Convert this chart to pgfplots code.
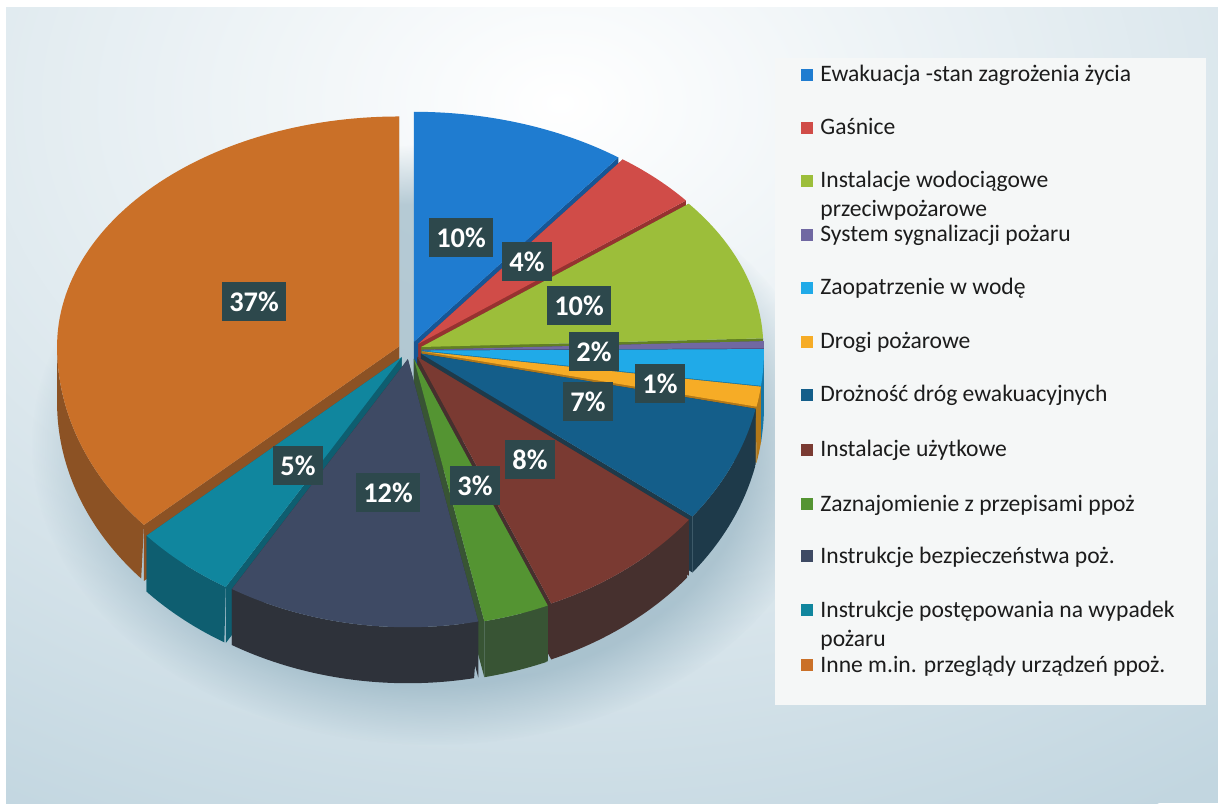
\documentclass[border=0pt]{standalone}
\usepackage{pgfplots}
\pgfplotsset{compat=1.18}
\usepackage{pgfplotstable}
\usetikzlibrary{fadings}
\usepackage{fontspec}
\setmainfont{Carlito}

\definecolor{c0}{RGB}{31,124,208}   \definecolor{s0}{RGB}{22,86,150}
\definecolor{c1}{RGB}{208,76,72}    \definecolor{s1}{RGB}{150,50,48}
\definecolor{c2}{RGB}{156,190,58}   \definecolor{s2}{RGB}{98,128,36}
\definecolor{c3}{RGB}{112,104,162}  \definecolor{s3}{RGB}{78,70,118}
\definecolor{c4}{RGB}{32,170,232}   \definecolor{s4}{RGB}{22,118,165}
\definecolor{c5}{RGB}{246,172,38}   \definecolor{s5}{RGB}{178,120,25}
\definecolor{c6}{RGB}{20,94,138}    \definecolor{s6}{RGB}{30,58,74}
\definecolor{c7}{RGB}{122,58,50}    \definecolor{s7}{RGB}{70,48,46}
\definecolor{c8}{RGB}{84,148,50}    \definecolor{s8}{RGB}{56,84,52}
\definecolor{c9}{RGB}{62,74,100}    \definecolor{s9}{RGB}{46,50,58}
\definecolor{c10}{RGB}{16,134,158}  \definecolor{s10}{RGB}{14,94,112}
\definecolor{c11}{RGB}{202,112,40}  \definecolor{s11}{RGB}{140,82,36}
\definecolor{lblbox}{RGB}{45,72,76}
\definecolor{bgblue}{RGB}{194,214,224}
\definecolor{legbg}{RGB}{245,247,247}
\definecolor{shadowc}{RGB}{140,172,188}
\definecolor{txt}{RGB}{28,28,28}

% value = share in percent, explode = offset in px, lx/ly = label centre (px), lab = printed percent
\pgfplotstableread{
value explode lx  ly  lab
10.2  12      461 238 10
4.1   12      527 262 4
10.1  12      579 306 10
0.5   12      0   0   0
2.2   12      594 352 2
1.2   12      660 384 1
7.1   12      588 402 7
8.2   12      530 460 8
3.1   13      475 486 3
11.9  13      388 493 12
4.8   13      298 466 5
36.6  12      254 302 37
}\piedata

% centre, horizontal radius, vertical radius behind / in front, depth (all px)
\def\CX{410}\def\CY{453}\def\RX{342}\def\RYU{230}\def\RYD{268}\def\DEP{56}
\pgfplotstablegetrowsof{\piedata}
\pgfmathtruncatemacro\pielast{\pgfplotsretval-1}
\xdef\piecum{90}
\foreach \r in {0,...,\pielast}{%
  \pgfplotstablegetelem{\r}{value}\of\piedata
  \pgfmathsetmacro\pieAa{\piecum}%
  \pgfmathsetmacro\pieBb{\piecum-3.6*\pgfplotsretval}%
  \pgfmathsetmacro\pieMid{(\pieAa+\pieBb)/2}%
  \pgfplotstablegetelem{\r}{explode}\of\piedata
  \pgfmathsetmacro\pieXx{\CX+\pgfplotsretval*cos(\pieMid)}%
  \pgfmathsetmacro\pieYy{\CY+\pgfplotsretval*sin(\pieMid)*0.72}%
  \pgfmathsetmacro\pieLo{max(\pieBb,-180)}%
  \pgfmathsetmacro\pieHi{min(\pieAa,0)}%
  \pgfmathtruncatemacro\pieVis{\pieHi>\pieLo+0.01 ? 1 : 0}%
  \pgfmathsetmacro\xa{\pieXx+\RX*cos(\pieAa)}\pgfmathsetmacro\ya{\pieYy+sin(\pieAa)*(sin(\pieAa)>0 ? \RYU : \RYD)}%
  \pgfmathsetmacro\xb{\pieXx+\RX*cos(\pieBb)}\pgfmathsetmacro\yb{\pieYy+sin(\pieBb)*(sin(\pieBb)>0 ? \RYU : \RYD)}%
  \pgfmathsetmacro\pyd{\pieYy-\DEP}\pgfmathsetmacro\yad{\ya-\DEP}\pgfmathsetmacro\ybd{\yb-\DEP}%
  \pgfplotstablegetelem{\r}{lx}\of\piedata \let\plx\pgfplotsretval
  \pgfplotstablegetelem{\r}{ly}\of\piedata \pgfmathsetmacro\ply{803-\pgfplotsretval}%
  \pgfplotstablegetelem{\r}{lab}\of\piedata \let\plab\pgfplotsretval
  \expandafter\xdef\csname pieA\r\endcsname{\pieAa}%
  \expandafter\xdef\csname pieB\r\endcsname{\pieBb}%
  \expandafter\xdef\csname pieX\r\endcsname{\pieXx}%
  \expandafter\xdef\csname pieY\r\endcsname{\pieYy}%
  \expandafter\xdef\csname pieLO\r\endcsname{\pieLo}%
  \expandafter\xdef\csname pieHI\r\endcsname{\pieHi}%
  \expandafter\xdef\csname pieV\r\endcsname{\pieVis}%
  \expandafter\xdef\csname pieLX\r\endcsname{\plx}%
  \expandafter\xdef\csname pieLY\r\endcsname{\ply}%
  \expandafter\xdef\csname pieL\r\endcsname{\plab}%
  \expandafter\xdef\csname pieFA\r\endcsname{(\pieXx,\pieYy) (\xa,\ya) (\xa,\yad) (\pieXx,\pyd)}%
  \expandafter\xdef\csname pieFB\r\endcsname{(\pieXx,\pieYy) (\xb,\yb) (\xb,\ybd) (\pieXx,\pyd)}%
  \xdef\piecum{\pieBb}%
}

\begin{document}
\begin{tikzpicture}
\useasboundingbox (0,0) rectangle (609pt,401.5pt);
\begin{scope}[x=0.5pt,y=0.5pt]
  \fill[white] (0,0) rectangle (1218,803);
  \begin{scope}
    \clip (6,0) rectangle (1218,795);
    \fill[bgblue] (6,0) rectangle (1218,795);
    \shade[inner color=white, outer color=bgblue] (560,700) ellipse (1150 and 820);
    \fill[shadowc, opacity=0.6, path fading=circle with fuzzy edge 20 percent] (432,358) ellipse (400 and 300);
  \end{scope}
  \fill[legbg] (775,98) rectangle (1206,745);
\end{scope}
\begin{axis}[at={(0,0)}, anchor=south west, width=609pt, height=401.5pt,
  scale only axis, xmin=0, xmax=1218, ymin=0, ymax=803, hide axis, clip=false]
  % side faces, back to front
  \pgfplotsinvokeforeach{0,1,2,3,4,5,11,6,10,7,8,9}{%
    \edef\temp{\noexpand\addplot[fill=s#1, draw=none] coordinates {\csname pieFA#1\endcsname};}\temp
    \edef\temp{\noexpand\addplot[fill=s#1, draw=none] coordinates {\csname pieFB#1\endcsname};}\temp
    \ifnum\csname pieV#1\endcsname=1
      \addplot[fill=s#1, draw=none, domain=0:2, samples=121]
        ({\csname pieX#1\endcsname+\RX*cos(ifthenelse(\x<1.0001, \csname pieLO#1\endcsname+\x*(\csname pieHI#1\endcsname-\csname pieLO#1\endcsname), \csname pieHI#1\endcsname-(\x-1)*(\csname pieHI#1\endcsname-\csname pieLO#1\endcsname)))},
         {\csname pieY#1\endcsname+\RYD*sin(ifthenelse(\x<1.0001, \csname pieLO#1\endcsname+\x*(\csname pieHI#1\endcsname-\csname pieLO#1\endcsname), \csname pieHI#1\endcsname-(\x-1)*(\csname pieHI#1\endcsname-\csname pieLO#1\endcsname)))-(\x>1.0001)*\DEP});
    \fi
  }
  % top faces
  \pgfplotsinvokeforeach{0,...,11}{%
    \addplot[fill=c#1, draw=none, domain=\csname pieB#1\endcsname:\csname pieA#1\endcsname, samples=90]
      ({\csname pieX#1\endcsname+\RX*cos(\x)}, {\csname pieY#1\endcsname+sin(\x)*ifthenelse(sin(\x)>0,\RYU,\RYD)})
      -- (axis cs:\csname pieX#1\endcsname,\csname pieY#1\endcsname);
  }
  % data labels
  \pgfplotsinvokeforeach{0,1,2,4,5,6,7,8,9,10,11}{%
    \node[fill=lblbox, text=white, font=\bfseries\fontsize{14.2}{16}\selectfont,
      inner xsep=3.5pt, inner ysep=0pt, minimum height=19.5pt]
      at (axis cs:\csname pieLX#1\endcsname,\csname pieLY#1\endcsname) {\csname pieL#1\endcsname\%};
  }
\end{axis}
\begin{scope}[x=0.5pt,y=0.5pt, every node/.style={anchor=base west, inner sep=0pt, text=txt, font=\fontsize{11.8}{14}\selectfont}]
  \def\legitem#1#2#3{\fill[#1] (801,803-#2+1) rectangle (813,803-#2+13); \node at (820,803-#2) {#3};}
  \legitem{c0}{82}{Ewakuacja -stan zagrożenia życia}
  \legitem{c1}{135}{Gaśnice}
  \legitem{c2}{188}{Instalacje wodociągowe}
  \node at (820,803-217) {przeciwpożarowe};
  \legitem{c3}{242}{System sygnalizacji pożaru}
  \legitem{c4}{295}{Zaopatrzenie w wodę}
  \legitem{c5}{349}{Drogi pożarowe}
  \legitem{c6}{402}{Drożność dróg ewakuacyjnych}
  \legitem{c7}{457}{Instalacje użytkowe}
  \legitem{c8}{511}{Zaznajomienie z przepisami ppoż}
  \legitem{c9}{563}{Instrukcje bezpieczeństwa poż.}
  \legitem{c10}{617}{Instrukcje postępowania na wypadek}
  \node at (820,803-646) {pożaru};
  \legitem{c11}{672}{Inne m.in. przeglądy urządzeń ppoż.}
\end{scope}
\end{tikzpicture}
\end{document}
